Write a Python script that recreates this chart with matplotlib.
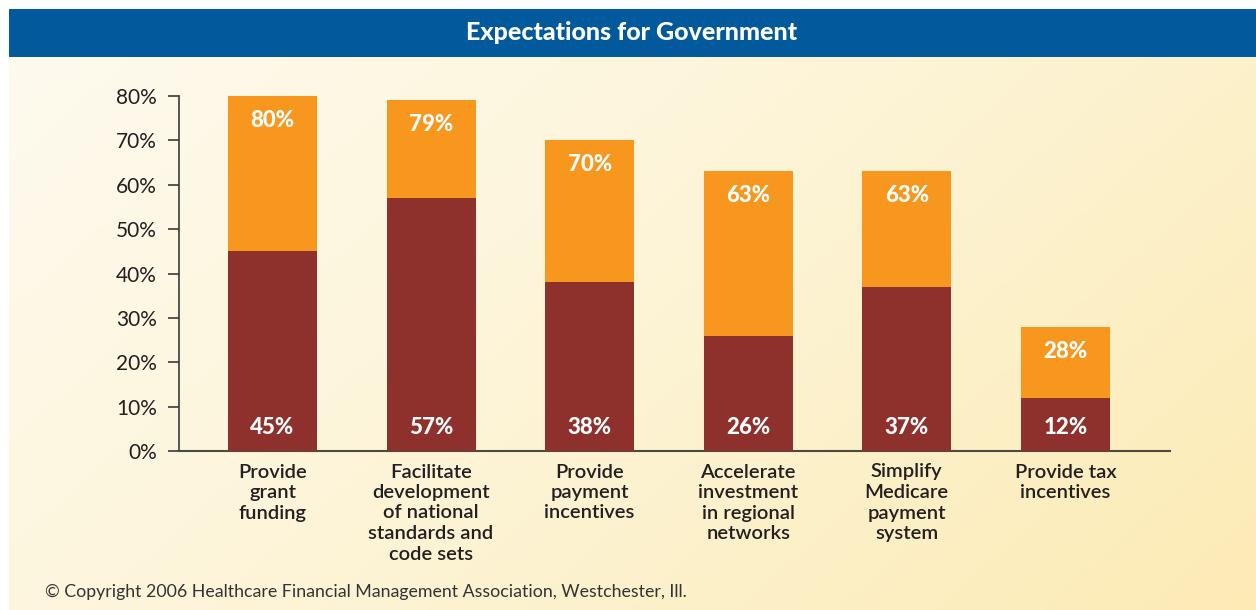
import numpy as np
import matplotlib
matplotlib.use("Agg")
import matplotlib.pyplot as plt
from matplotlib.colors import LinearSegmentedColormap

categories = ["Provide\ngrant\nfunding",
              "Facilitate\ndevelopment\nof national\nstandards and\ncode sets",
              "Provide\npayment\nincentives",
              "Accelerate\ninvestment\nin regional\nnetworks",
              "Simplify\nMedicare\npayment\nsystem",
              "Provide tax\nincentives"]
total_pct = [80, 79, 70, 63, 63, 28]
core_pct = [45, 57, 38, 26, 37, 12]
yticks = [0, 10, 20, 30, 40, 50, 60, 70, 80]

ORANGE = "#F7971E"
RED = "#8E312C"
BLUE = "#02599C"
TXT = "#231F20"

fig = plt.figure(figsize=(12.56, 6.10), dpi=100)

# background gradient panel
bg = fig.add_axes([9 / 1256, 0, 1 - 9 / 1256, 1 - 57 / 610])
bg.set_axis_off()
xx, yy = np.meshgrid(np.linspace(0, 1, 200), np.linspace(0, 1, 100))
grad = (xx * 0.7 + yy * 0.35)
cmap = LinearSegmentedColormap.from_list("bg", ["#FDFAEE", "#FDF4D6", "#FCEBB5"])
bg.imshow(grad, cmap=cmap, aspect="auto", extent=[0, 1, 0, 1], origin="upper")

# title banner
ban = fig.add_axes([9 / 1256, 1 - 57 / 610, 1 - 9 / 1256, 48 / 610])
ban.set_axis_off()
ban.set_xlim(0, 1)
ban.set_ylim(0, 1)
ban.add_patch(plt.Rectangle((0, 0), 1, 1, color=BLUE))
fig.text(632 / 1256, 1 - 32 / 610, "Expectations for Government", color="white",
         fontsize=18, fontweight="black", family="Lato", ha="center", va="center")

ax = fig.add_axes([179 / 1256, 1 - 451 / 610, 991 / 1256, 355 / 610])
ax.patch.set_alpha(0)
x = np.arange(len(categories))
w = 0.56
ax.bar(x, total_pct, width=w, color=ORANGE, zorder=2)
ax.bar(x, core_pct, width=w, color=RED, zorder=3)

for i in range(len(x)):
    ax.text(x[i], total_pct[i] - 5.5, f"{total_pct[i]}%", color="white", fontsize=16,
            fontweight="black", family="Lato", ha="center", va="center", zorder=4)
    ax.text(x[i], 5.3, f"{core_pct[i]}%", color="white", fontsize=16,
            fontweight="black", family="Lato", ha="center", va="center", zorder=4)

ax.set_xlim(-0.59, 5.66)
ax.set_ylim(0, 80)
ax.set_yticks(yticks)
ax.set_yticklabels([f"{t}%" for t in yticks], fontsize=15, family="Lato", color=TXT)
ax.tick_params(axis="y", length=8, width=1.2, color="#3a3a3a", pad=8)
ax.set_xticks(x)
ax.set_xticklabels(categories, fontsize=14.5, family="Lato", color=TXT,
                   linespacing=1.25, va="top", fontweight="semibold")
ax.tick_params(axis="x", length=0, pad=9)
for s in ["top", "right"]:
    ax.spines[s].set_visible(False)
ax.spines["left"].set_color("#3a3a3a")
ax.spines["bottom"].set_color("#4a4a40")
ax.spines["left"].set_linewidth(1.2)
ax.spines["bottom"].set_linewidth(1.5)

fig.text(45 / 1256, 1 - 592 / 610,
         "\u00a9 Copyright 2006 Healthcare Financial Management Association, Westchester, Ill.",
         fontsize=12.8, family="Lato", color="#333333", va="center")

fig.savefig("out.png", dpi=100)
